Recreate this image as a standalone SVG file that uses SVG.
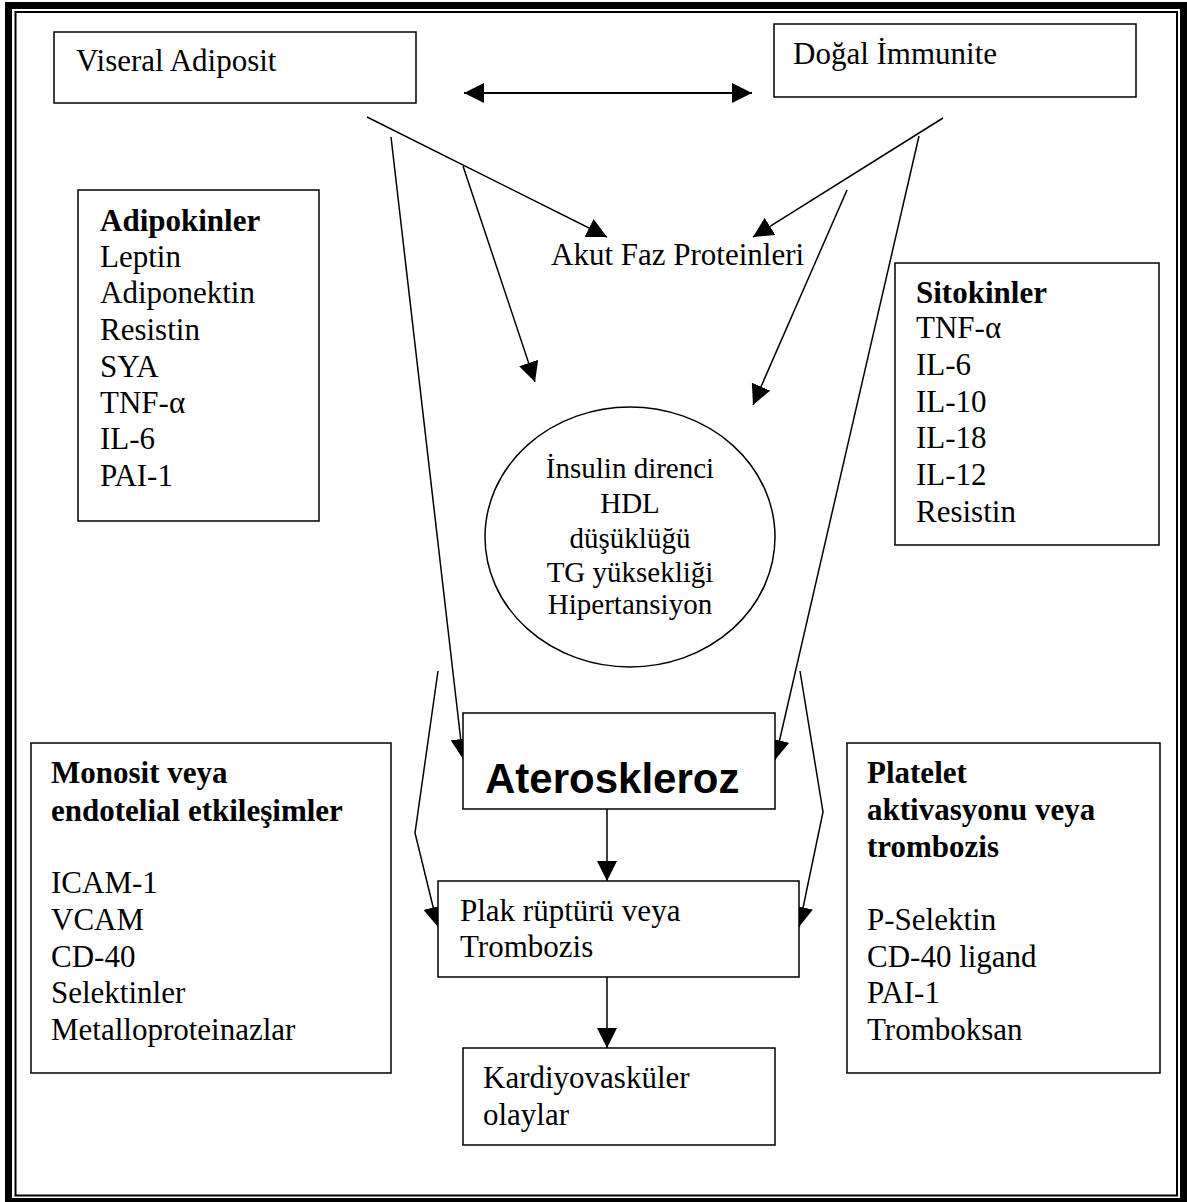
<svg xmlns="http://www.w3.org/2000/svg" width="1187" height="1202" viewBox="0 0 1187 1202">
<style>
.box{fill:#fff;stroke:#000;stroke-width:1.5}
.t{font-family:"Liberation Serif","Times New Roman",serif;font-size:31px;fill:#000}
.b{font-weight:bold}
.c{font-family:"Liberation Serif","Times New Roman",serif;font-size:29px;fill:#000;text-anchor:middle}
.ln{fill:none;stroke:#000;stroke-width:1.5}
</style>
<defs>
<marker id="ah" markerUnits="userSpaceOnUse" markerWidth="20" markerHeight="20" refX="20" refY="10" orient="auto-start-reverse" viewBox="0 0 20 20"><path d="M0,0 L20,10 L0,20 z" fill="#000"/></marker>
</defs>
<rect width="1187" height="1202" fill="#fff"/>
<g id="frame">
<rect x="8.5" y="5.5" width="1175" height="1196" fill="none" stroke="#000" stroke-width="7"/>
<rect x="15.5" y="12" width="1161.5" height="1183.5" fill="none" stroke="#000" stroke-width="2"/>
</g>
<g id="connectors">
<line x1="464" y1="93" x2="752" y2="93" stroke="#000" stroke-width="2" marker-start="url(#ah)" marker-end="url(#ah)"/>
<line class="ln" x1="367" y1="117" x2="607" y2="237" marker-end="url(#ah)"/>
<line class="ln" x1="463" y1="166" x2="535" y2="382" marker-end="url(#ah)"/>
<line class="ln" x1="391" y1="137" x2="463" y2="759" marker-end="url(#ah)"/>
<line class="ln" x1="943" y1="118" x2="753" y2="237" marker-end="url(#ah)"/>
<line class="ln" x1="847" y1="190" x2="753" y2="405" marker-end="url(#ah)"/>
<line class="ln" x1="919" y1="136" x2="775" y2="760" marker-end="url(#ah)"/>
<line class="ln" x1="607" y1="809" x2="607" y2="881" marker-end="url(#ah)"/>
<polyline class="ln" points="438,671 415,833 438,927" marker-end="url(#ah)"/>
<polyline class="ln" points="800,671 823,812 799,927" marker-end="url(#ah)"/>
<line class="ln" x1="607" y1="977" x2="607" y2="1048" marker-end="url(#ah)"/>
</g>
<g id="viseral">
<rect class="box" x="54" y="32" width="362" height="71"/>
<text class="t" x="76" y="71">Viseral Adiposit</text>
</g>
<g id="dogal">
<rect class="box" x="774" y="24" width="362" height="73"/>
<text class="t" x="793" y="64">Doğal İmmunite</text>
</g>
<g id="akut">
<text class="t" x="551" y="265">Akut Faz Proteinleri</text>
</g>
<g id="adipokinler">
<rect class="box" x="78" y="190" width="241" height="331"/>
<text class="t b" x="100" y="231">Adipokinler</text>
<text class="t" x="100" y="267">Leptin</text>
<text class="t" x="100" y="303">Adiponektin</text>
<text class="t" x="100" y="340">Resistin</text>
<text class="t" x="100" y="377">SYA</text>
<text class="t" x="100" y="413">TNF-α</text>
<text class="t" x="100" y="449">IL-6</text>
<text class="t" x="100" y="486">PAI-1</text>
</g>
<g id="sitokinler">
<rect class="box" x="895" y="263" width="264" height="282"/>
<text class="t b" x="916" y="303">Sitokinler</text>
<text class="t" x="916" y="338">TNF-α</text>
<text class="t" x="916" y="375">IL-6</text>
<text class="t" x="916" y="412">IL-10</text>
<text class="t" x="916" y="448">IL-18</text>
<text class="t" x="916" y="485">IL-12</text>
<text class="t" x="916" y="522">Resistin</text>
</g>
<g id="metabolik">
<ellipse class="box" cx="630" cy="537" rx="145" ry="130"/>
<text class="c" x="630" y="478">İnsulin direnci</text>
<text class="c" x="630" y="513">HDL</text>
<text class="c" x="630" y="548">düşüklüğü</text>
<text class="c" x="630" y="582">TG yüksekliği</text>
<text class="c" x="630" y="614">Hipertansiyon</text>
</g>
<g id="ateroskleroz">
<rect class="box" x="463" y="713" width="312" height="96"/>
<text x="485" y="793" font-family="'Liberation Sans',Arial,sans-serif" font-size="42" font-weight="bold">Ateroskleroz</text>
</g>
<g id="monosit">
<rect class="box" x="31" y="743" width="360" height="330"/>
<text class="t b" x="51" y="783">Monosit veya</text>
<text class="t b" x="51" y="821">endotelial etkileşimler</text>
<text class="t" x="51" y="893">ICAM-1</text>
<text class="t" x="51" y="930">VCAM</text>
<text class="t" x="51" y="967">CD-40</text>
<text class="t" x="51" y="1003">Selektinler</text>
<text class="t" x="51" y="1040">Metalloproteinazlar</text>
</g>
<g id="platelet">
<rect class="box" x="847" y="743" width="313" height="330"/>
<text class="t b" x="867" y="783">Platelet</text>
<text class="t b" x="867" y="820">aktivasyonu veya</text>
<text class="t b" x="867" y="857">trombozis</text>
<text class="t" x="867" y="930">P-Selektin</text>
<text class="t" x="867" y="967">CD-40 ligand</text>
<text class="t" x="867" y="1003">PAI-1</text>
<text class="t" x="867" y="1040">Tromboksan</text>
</g>
<g id="plak">
<rect class="box" x="438" y="881" width="361" height="96"/>
<text class="t" x="460" y="921">Plak rüptürü veya</text>
<text class="t" x="460" y="957">Trombozis</text>
</g>
<g id="kardiyo">
<rect class="box" x="463" y="1048" width="312" height="97"/>
<text class="t" x="483" y="1088">Kardiyovasküler</text>
<text class="t" x="483" y="1125">olaylar</text>
</g>
</svg>
